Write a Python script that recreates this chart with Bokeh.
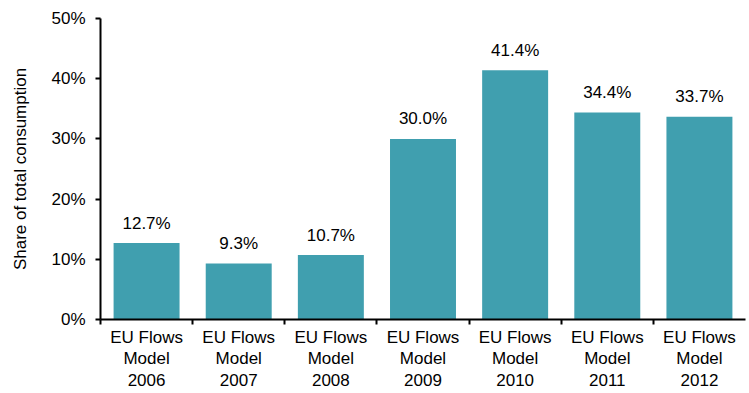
import numpy as np
from bokeh.plotting import figure
from bokeh.models import FixedTicker, Range1d, ColumnDataSource, LinearAxis
from bokeh.embed import file_html
from bokeh.resources import INLINE
from bokeh.core.properties import value

categories = ["EU Flows\nModel\n2006", "EU Flows\nModel\n2007", "EU Flows\nModel\n2008",
              "EU Flows\nModel\n2009", "EU Flows\nModel\n2010", "EU Flows\nModel\n2011",
              "EU Flows\nModel\n2012"]
shares = [12.7, 9.3, 10.7, 30.0, 41.4, 34.4, 33.7]
share_labels = ["12.7%", "9.3%", "10.7%", "30.0%", "41.4%", "34.4%", "33.7%"]
y_ticks = [0, 10, 20, 30, 40, 50]
y_tick_labels = ["0%", "10%", "20%", "30%", "40%", "50%"]

FONT = "Liberation Sans"
FS = "17px"
BAR = "#409FAF"

n = len(categories)
centers = list(np.arange(n) + 0.5)
bounds = list(np.arange(n).astype(float))

src = ColumnDataSource(dict(x=centers, top=shares, lab=share_labels))

p = figure(width=749, height=393, output_backend="svg", toolbar_location=None,
           x_range=Range1d(0, n), y_range=Range1d(0, 50), x_axis_type=None,
           min_border_left=100, min_border_right=4, min_border_top=18, min_border_bottom=73)
p.outline_line_color = None
p.xgrid.visible = False
p.ygrid.visible = False
p.background_fill_color = "white"
p.border_fill_color = "white"

p.vbar(x="x", top="top", width=0.716, bottom=0, source=src, fill_color=BAR, line_color=None)
p.text(x="x", y="top", text="lab", source=src, y_offset=-20, text_align="center",
       text_baseline="alphabetic", text_font=value(FONT), text_font_size=FS, text_color="black")

# y axis
ya = p.yaxis[0]
ya.ticker = FixedTicker(ticks=y_ticks, minor_ticks=[])
ya.major_label_overrides = {t: l for t, l in zip(y_ticks, y_tick_labels)}
ya.axis_label = "Share of total consumption"
ya.axis_label_text_font = FONT
ya.axis_label_text_font_size = FS
ya.axis_label_text_font_style = "normal"
ya.axis_label_text_color = "black"
ya.axis_label_standoff = 18
ya.major_label_text_font = FONT
ya.major_label_text_font_size = FS
ya.major_label_text_color = "black"
ya.major_label_standoff = 10
ya.major_tick_out = 5
ya.major_tick_in = 0
ya.minor_tick_out = 0
ya.minor_tick_in = 0
ya.axis_line_width = 2
ya.major_tick_line_width = 2
ya.axis_line_color = "black"
ya.major_tick_line_color = "black"

# x axis: labels at centers, boundary ticks as minor ticks
xa = LinearAxis(ticker=FixedTicker(ticks=centers, minor_ticks=bounds))
xa.major_label_overrides = {c: l for c, l in zip(centers, categories)}
xa.major_label_text_font = FONT
xa.major_label_text_font_size = FS
xa.major_label_text_color = "black"
xa.major_label_text_line_height = 1.15
xa.major_label_standoff = 3
xa.major_tick_out = 0
xa.major_tick_in = 0
xa.minor_tick_out = 5
xa.minor_tick_in = 0
xa.minor_tick_line_color = "black"
xa.minor_tick_line_width = 2
xa.axis_line_width = 2
xa.axis_line_color = "black"
p.add_layout(xa, "below")

open("out.html", "w").write(file_html(p, INLINE))
